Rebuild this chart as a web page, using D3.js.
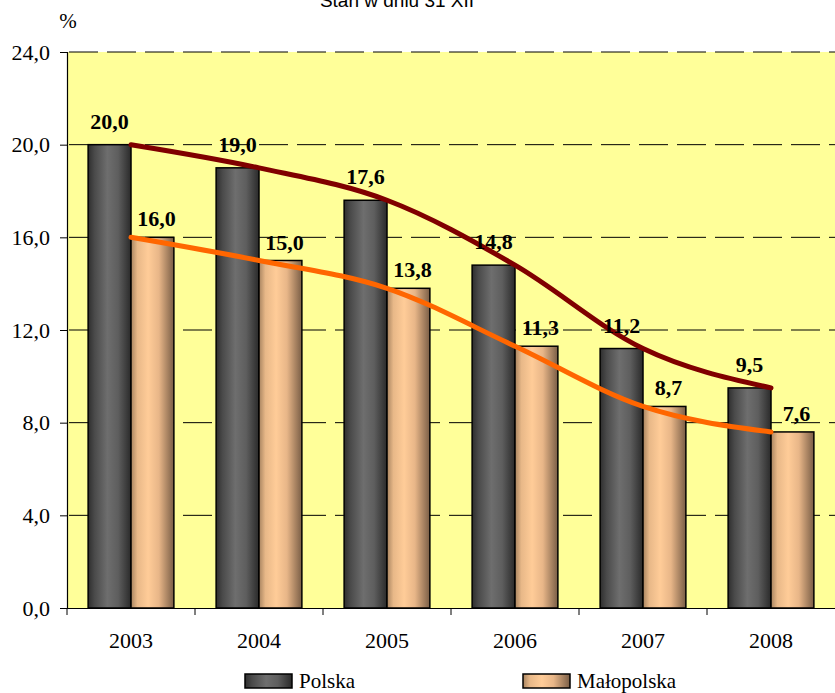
<!DOCTYPE html>
<html>
<head>
<meta charset="utf-8">
<script src="https://cdn.jsdelivr.net/npm/d3@7"></script>
</head>
<body style="margin:0; background:#fff">
<svg id="chart" width="835" height="693" style="display:block"></svg>
<script>
const years = ["2003", "2004", "2005", "2006", "2007", "2008"];
const polska = [20.0, 19.0, 17.6, 14.8, 11.2, 9.5];
const malopolska = [16.0, 15.0, 13.8, 11.3, 8.7, 7.6];
const yTicks = [0, 4, 8, 12, 16, 20, 24];
const seriesNames = ["Polska", "Małopolska"];

const margin = ({top: 52, right: 0, bottom: 85, left: 67});
const width = 835, height = 693;
const SERIF = "Liberation Serif";
const SANS = "Liberation Sans";

const svg = d3.select("#chart");
const fmt = v => d3.format(".1f")(v).replace(".", ",");

const x = d3.scaleBand()
  .domain(years)
  .range([margin.left, width - margin.right])
  .padding(0);

const y = d3.scaleLinear()
  .domain([0, 24])
  .range([height - margin.bottom, margin.top]);

const barW = x.bandwidth() * 0.335;

// gradients
const defs = svg.append("defs");
function grad(id, stops) {
  const g = defs.append("linearGradient").attr("id", id)
    .attr("x1", "0%").attr("x2", "100%").attr("y1", "0%").attr("y2", "0%");
  stops.forEach(s => g.append("stop").attr("offset", s[0]).attr("stop-color", s[1]));
}
grad("gPol", [["0%", "#2e2e2e"], ["15%", "#4a4a4a"], ["45%", "#6e6e6e"], ["70%", "#5e5e5e"], ["100%", "#2a2a2a"]]);
grad("gMal", [["0%", "#a88460"], ["15%", "#e8b888"], ["40%", "#ffcc98"], ["65%", "#e8b688"], ["100%", "#7a5e46"]]);

// plot background
svg.append("rect")
  .attr("x", margin.left).attr("y", margin.top)
  .attr("width", width - margin.right - margin.left)
  .attr("height", y(0) - y(24))
  .attr("fill", "#ffff99");

// dashed gridlines
svg.append("g")
  .selectAll("line")
  .data(yTicks.filter(d => d > 0))
  .join("line")
  .attr("x1", margin.left).attr("x2", width - margin.right)
  .attr("y1", d => y(d)).attr("y2", d => y(d))
  .attr("stroke", "#000")
  .attr("stroke-width", 1)
  .attr("stroke-dasharray", "29,9")
  .attr("stroke-dashoffset", -2);

// bars
const groups = svg.append("g")
  .selectAll("g")
  .data(years)
  .join("g");

groups.append("rect")
  .attr("x", d => x(d) + x.bandwidth() / 2 - barW)
  .attr("y", (d, i) => y(polska[i]))
  .attr("width", barW)
  .attr("height", (d, i) => y(0) - y(polska[i]))
  .attr("fill", "url(#gPol)")
  .attr("stroke", "#000")
  .attr("stroke-width", 1.5);

groups.append("rect")
  .attr("x", d => x(d) + x.bandwidth() / 2)
  .attr("y", (d, i) => y(malopolska[i]))
  .attr("width", barW)
  .attr("height", (d, i) => y(0) - y(malopolska[i]))
  .attr("fill", "url(#gMal)")
  .attr("stroke", "#000")
  .attr("stroke-width", 1.5);

// trend lines
const line = d3.line()
  .x((d, i) => x(years[i]) + x.bandwidth() / 2)
  .y(d => y(d))
  .curve(d3.curveMonotoneX);

svg.append("path")
  .datum(polska)
  .attr("d", line)
  .attr("fill", "none")
  .attr("stroke", "#800000")
  .attr("stroke-width", 5)
  .attr("stroke-linecap", "round");

svg.append("path")
  .datum(malopolska)
  .attr("d", line)
  .attr("fill", "none")
  .attr("stroke", "#ff6600")
  .attr("stroke-width", 5)
  .attr("stroke-linecap", "round");

// value labels
svg.append("g")
  .selectAll("text")
  .data(polska)
  .join("text")
  .attr("x", (d, i) => x(years[i]) + x.bandwidth() / 2 - barW / 2)
  .attr("y", d => y(d) - 16)
  .attr("text-anchor", "middle")
  .attr("style", `font-family:${SERIF}; font-weight:bold; font-size:22px`)
  .text(fmt);

svg.append("g")
  .selectAll("text")
  .data(malopolska)
  .join("text")
  .attr("x", (d, i) => x(years[i]) + x.bandwidth() / 2 + barW / 2 + 4)
  .attr("y", d => y(d) - 11)
  .attr("text-anchor", "middle")
  .attr("style", `font-family:${SERIF}; font-weight:bold; font-size:22px`)
  .text(fmt);

// axes
const yAxisG = svg.append("g")
  .attr("transform", `translate(${margin.left},0)`)
  .call(d3.axisLeft(y).tickValues(yTicks).tickSize(7).tickPadding(10).tickFormat(fmt));
yAxisG.select(".domain").attr("stroke", "#000").attr("stroke-width", 1.2);
yAxisG.selectAll("text")
  .attr("style", `font-family:${SERIF}; font-size:22px`)
  .attr("fill", "#000");

const xAxisG = svg.append("g")
  .attr("transform", `translate(0,${y(0)})`)
  .call(d3.axisBottom(x).tickSize(0).tickPadding(24));
xAxisG.select(".domain").attr("stroke", "#000").attr("stroke-width", 1.2);
xAxisG.selectAll("text")
  .attr("style", `font-family:${SERIF}; font-size:22px`)
  .attr("fill", "#000");

// category separators on the x axis
svg.append("g")
  .selectAll("line")
  .data(years)
  .join("line")
  .attr("x1", d => x(d)).attr("x2", d => x(d))
  .attr("y1", y(0)).attr("y2", y(0) + 7)
  .attr("stroke", "#000");

// unit + title
svg.append("text")
  .attr("x", 68).attr("y", 28)
  .attr("text-anchor", "middle")
  .attr("style", `font-family:${SERIF}; font-size:21px`)
  .text("%");

svg.append("text")
  .attr("x", 397).attr("y", 7)
  .attr("text-anchor", "middle")
  .attr("style", `font-family:${SANS}; font-size:19px`)
  .text("Stan w dniu 31 XII");

// legend
const legendX = [245, 523];
const legend = svg.append("g")
  .selectAll("g")
  .data(seriesNames)
  .join("g")
  .attr("transform", (d, i) => `translate(${legendX[i]},674)`);

legend.append("rect")
  .attr("width", 47).attr("height", 14)
  .attr("fill", (d, i) => i === 0 ? "url(#gPol)" : "url(#gMal)")
  .attr("stroke", "#000")
  .attr("stroke-width", 1.5);

legend.append("text")
  .attr("x", 54).attr("y", 14)
  .attr("style", `font-family:${SERIF}; font-size:21px`)
  .text(d => d);
</script>
</body>
</html>
